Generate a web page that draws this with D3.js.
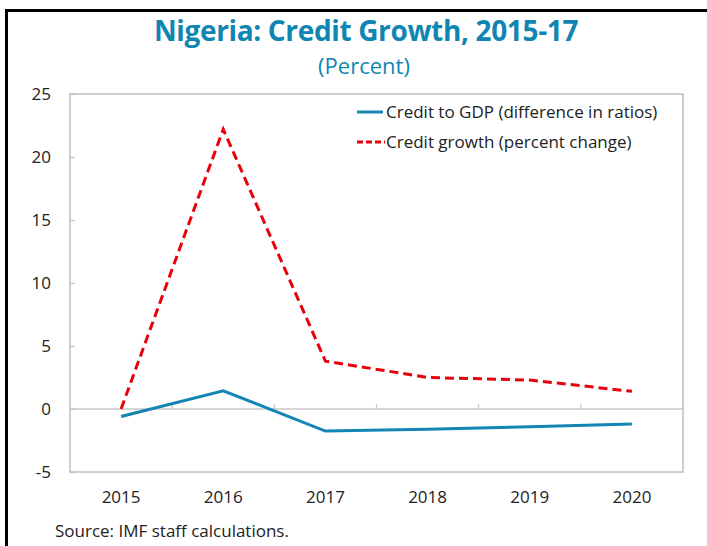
<!DOCTYPE html>
<html>
<head>
<meta charset="utf-8">
<script src="https://cdn.jsdelivr.net/npm/d3@7"></script>
<style>
  body { margin: 0; background: #fff; }
  svg { display: block; font-family: "Open Sans", "Noto Sans", sans-serif; }
</style>
</head>
<body>
<svg width="707" height="546"></svg>
<script>
const years = ['2015', '2016', '2017', '2018', '2019', '2020']
const creditToGdp = [-0.6, 1.45, -1.75, -1.6, -1.4, -1.2]
const creditGrowth = [0, 22.2, 3.8, 2.5, 2.3, 1.4]
const yTicks = [-5, 0, 5, 10, 15, 20, 25]

const blue = '#1384b4'
const red = '#e8000b'
const teal = '#0f86b2'

const svg = d3.select('svg')

// outer frame
svg.append('path')
  .attr('d', 'M6.5,546 V10.5 H707')
  .attr('fill', 'none')
  .attr('stroke', '#000')
  .attr('stroke-width', 3)

const plotLeft = 70, plotRight = 683, plotTop = 94, plotBottom = 472

const x = d3.scaleBand().domain(years).range([plotLeft, plotRight])
const y = d3.scaleLinear().domain([-5, 25]).range([plotBottom, plotTop])

// title
svg.append('text')
  .attr('x', 366).attr('y', 41)
  .attr('text-anchor', 'middle')
  .attr('fill', teal)
  .attr('font-size', 28)
  .attr('font-weight', 'bold')
  .attr('letter-spacing', -0.35)
  .text('Nigeria: Credit Growth, 2015-17')

svg.append('text')
  .attr('x', 364).attr('y', 74)
  .attr('text-anchor', 'middle')
  .attr('fill', teal)
  .attr('font-size', 22)
  .text('(Percent)')

// plot frame
svg.append('rect')
  .attr('x', plotLeft).attr('y', plotTop)
  .attr('width', plotRight - plotLeft).attr('height', plotBottom - plotTop)
  .attr('fill', 'none')
  .attr('stroke', '#bfbfbf')
  .attr('stroke-width', 1.5)

// y axis
const yAxis = svg.append('g')
  .attr('transform', `translate(${plotLeft},0)`)
  .call(d3.axisRight(y).tickValues(yTicks).tickSize(5).tickFormat(''))
yAxis.select('.domain').remove()
yAxis.selectAll('line').attr('stroke', '#bfbfbf').attr('stroke-width', 1.2)

svg.append('g')
  .selectAll('text')
  .data(yTicks)
  .join('text')
  .attr('x', 51)
  .attr('y', d => y(d) + 6)
  .attr('text-anchor', 'end')
  .attr('font-size', 17)
  .attr('fill', '#222')
  .text(d => d)

// zero line with category ticks
svg.append('line')
  .attr('x1', plotLeft).attr('x2', plotRight)
  .attr('y1', y(0)).attr('y2', y(0))
  .attr('stroke', '#c8c8c8')
  .attr('stroke-width', 1.5)

svg.append('g')
  .selectAll('line')
  .data(years.slice(1))
  .join('line')
  .attr('x1', d => x(d)).attr('x2', d => x(d))
  .attr('y1', y(0)).attr('y2', y(0) - 5)
  .attr('stroke', '#c8c8c8')
  .attr('stroke-width', 1.2)

// x labels
svg.append('g')
  .selectAll('text')
  .data(years)
  .join('text')
  .attr('x', d => x(d) + x.bandwidth() / 2)
  .attr('y', 503)
  .attr('text-anchor', 'middle')
  .attr('font-size', 17)
  .attr('fill', '#222')
  .text(d => d)

const line = d3.line()
  .x((d, i) => x(years[i]) + x.bandwidth() / 2)
  .y(d => y(d))

svg.append('path')
  .datum(creditToGdp)
  .attr('d', line)
  .attr('fill', 'none')
  .attr('stroke', blue)
  .attr('stroke-width', 3)

svg.append('path')
  .datum(creditGrowth)
  .attr('d', line)
  .attr('fill', 'none')
  .attr('stroke', red)
  .attr('stroke-width', 3)
  .attr('stroke-dasharray', '9,5')

// legend
const legend = svg.append('g')
legend.append('line')
  .attr('x1', 357).attr('x2', 383).attr('y1', 112).attr('y2', 112)
  .attr('stroke', blue).attr('stroke-width', 3)
legend.append('line')
  .attr('x1', 357).attr('x2', 385).attr('y1', 142).attr('y2', 142)
  .attr('stroke', red).attr('stroke-width', 3)
  .attr('stroke-dasharray', '6,3')
legend.append('text')
  .attr('x', 386).attr('y', 118)
  .attr('font-size', 17).attr('fill', '#222')
  .text('Credit to GDP (difference in ratios)')
legend.append('text')
  .attr('x', 386).attr('y', 148)
  .attr('font-size', 17).attr('fill', '#222')
  .text('Credit growth (percent change)')

// source
svg.append('text')
  .attr('x', 55).attr('y', 537)
  .attr('font-size', 17).attr('fill', '#222')
  .text('Source: IMF staff calculations.')
</script>
</body>
</html>
